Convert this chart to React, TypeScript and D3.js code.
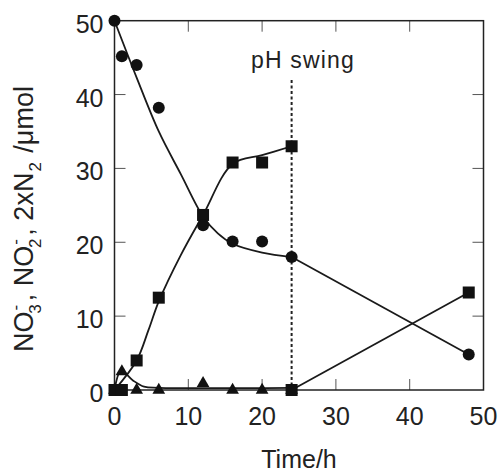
import * as d3 from 'd3';

// measured points
const times = [0, 1, 3, 6, 12, 16, 20, 24];
const nitrate = [50, 45.2, 44.0, 38.2, 22.3, 20.1, 20.1, 18.0];
const nitrite = [0, 2.5, 0, 0, 0.9, 0, 0, 0];
const dinitrogen = [0, 0, 4.0, 12.5, 23.7, 30.8, 30.8, 33.0];

// after the pH swing
const lateTimes = [24, 48];
const lateNitrate = [18.0, 4.8];
const lateDinitrogen = [0, 13.2];

// fitted curves
const nitrateFitT = [0, 3, 6, 9, 12, 14, 16, 20, 24];
const nitrateFit = [50, 42.3, 35, 29.2, 23.5, 21.2, 19.8, 18.6, 18];
const nitriteFitT = [0, 0.9, 2.5, 4, 6, 24];
const nitriteFit = [0, 2.6, 1.3, 0.45, 0.3, 0.3];
const n2FitT = [0, 3, 4.6, 6, 9, 12, 16, 20, 24];
const n2Fit = [0, 4, 8.1, 12.0, 18.3, 23.7, 30.6, 31.8, 33];

const xTicks = [0, 10, 20, 30, 40, 50];
const yTicks = [0, 10, 20, 30, 40, 50];
const swingTime = 24;

const W = 501;
const H = 474;
const margin = { top: 20.7, right: 17.5, bottom: 84, left: 114.5 };
const font = '"Liberation Sans", Arial, sans-serif';

export default function App() {
  const x = d3.scaleLinear().domain([0, 50]).range([margin.left, W - margin.right]);
  const y = d3.scaleLinear().domain([0, 50]).range([H - margin.bottom, margin.top]);
  const x0 = x(0), x1 = x(50), y0 = y(0), y1 = y(50);

  const smooth = d3.line<[number, number]>()
    .x(d => x(d[0]))
    .y(d => y(d[1]))
    .curve(d3.curveCatmullRom.alpha(0.5));
  const straight = d3.line<[number, number]>()
    .x(d => x(d[0]))
    .y(d => y(d[1]));

  const zip = (a: number[], b: number[]) => a.map((t, i) => [t, b[i]] as [number, number]);

  const tri = d3.symbol().type(d3.symbolTriangle).size(70)();
  const tickLen = 11;

  return (
    <svg width={W} height={H} style={{ position: 'absolute', left: 0, top: 0, background: '#fff' }}>
      {/* ticks */}
      <g stroke="#555" strokeWidth={1}>
        {xTicks.slice(1, -1).map(t => (
          <g key={'xt' + t}>
            <line x1={x(t)} x2={x(t)} y1={y0} y2={y0 - tickLen} />
            <line x1={x(t)} x2={x(t)} y1={y1} y2={y1 + tickLen} />
          </g>
        ))}
        {yTicks.slice(1, -1).map(t => (
          <g key={'yt' + t}>
            <line x1={x0} x2={x0 + tickLen} y1={y(t)} y2={y(t)} />
            <line x1={x1} x2={x1 - tickLen} y1={y(t)} y2={y(t)} />
          </g>
        ))}
      </g>
      <rect x={x0} y={y1} width={x1 - x0} height={y0 - y1} fill="none" stroke="#222" strokeWidth={1.5} />

      {/* tick labels */}
      <g fontFamily={font} fontSize={25} fill="#222">
        {xTicks.map(t => (
          <text key={'xl' + t} x={x(t)} y={y0 + 35} textAnchor="middle">{t}</text>
        ))}
        {yTicks.map(t => (
          <text key={'yl' + t} x={x0 - 11} y={y(t) + 12} textAnchor="end">{t}</text>
        ))}
      </g>

      {/* axis titles */}
      <text x={x(25)} y={468} textAnchor="middle" fontFamily={font} fontSize={25} fill="#222">Time/h</text>
      <text transform={`translate(33,219) rotate(-90)`} textAnchor="middle" fontFamily={font} fontSize={27} fill="#222">
        NO<tspan fontSize={17} dx={1} dy={-12}>-</tspan><tspan fontSize={17} dx={-9} dy={20}>3</tspan>
        <tspan dx={3} dy={-8}>, NO</tspan><tspan fontSize={17} dx={1} dy={-12}>-</tspan><tspan fontSize={17} dx={-9} dy={20}>2</tspan>
        <tspan dx={3} dy={-8}>, 2xN</tspan><tspan fontSize={17} dx={1} dy={8}>2</tspan><tspan dx={2} dy={-8}> /μmol</tspan>
      </text>

      {/* pH swing marker */}
      <line x1={x(swingTime)} x2={x(swingTime)} y1={80} y2={y0} stroke="#222" strokeWidth={2} strokeDasharray="3,2.5" />
      <text x={303} y={68} textAnchor="middle" fontFamily={font} fontSize={23} letterSpacing={1.2} fill="#222">pH swing</text>

      {/* curves */}
      <g fill="none" stroke="#1a1a1a" strokeWidth={1.8}>
        <path d={smooth(zip(nitrateFitT, nitrateFit)) || ''} />
        <path d={smooth(zip(nitriteFitT, nitriteFit)) || ''} />
        <path d={smooth(zip(n2FitT, n2Fit)) || ''} />
        <path d={straight(zip(lateTimes, lateNitrate)) || ''} />
        <path d={straight(zip(lateTimes, lateDinitrogen)) || ''} />
      </g>

      {/* markers */}
      <g fill="#111">
        {times.map((t, i) => (
          <path key={'tr' + i} d={tri || ''} transform={`translate(${x(t)},${y(nitrite[i])})`} />
        ))}
        {times.map((t, i) => (
          <rect key={'sq' + i} x={x(t) - 6} y={y(dinitrogen[i]) - 6} width={12} height={12} />
        ))}
        <rect x={x(lateTimes[0]) - 6} y={y(lateDinitrogen[0]) - 6} width={12} height={12} />
        <rect x={x(lateTimes[1]) - 6} y={y(lateDinitrogen[1]) - 6} width={12} height={12} />
        {times.map((t, i) => (
          <circle key={'ci' + i} cx={x(t)} cy={y(nitrate[i])} r={6} />
        ))}
        <circle cx={x(lateTimes[1])} cy={y(lateNitrate[1])} r={6} />
      </g>
    </svg>
  );
}
